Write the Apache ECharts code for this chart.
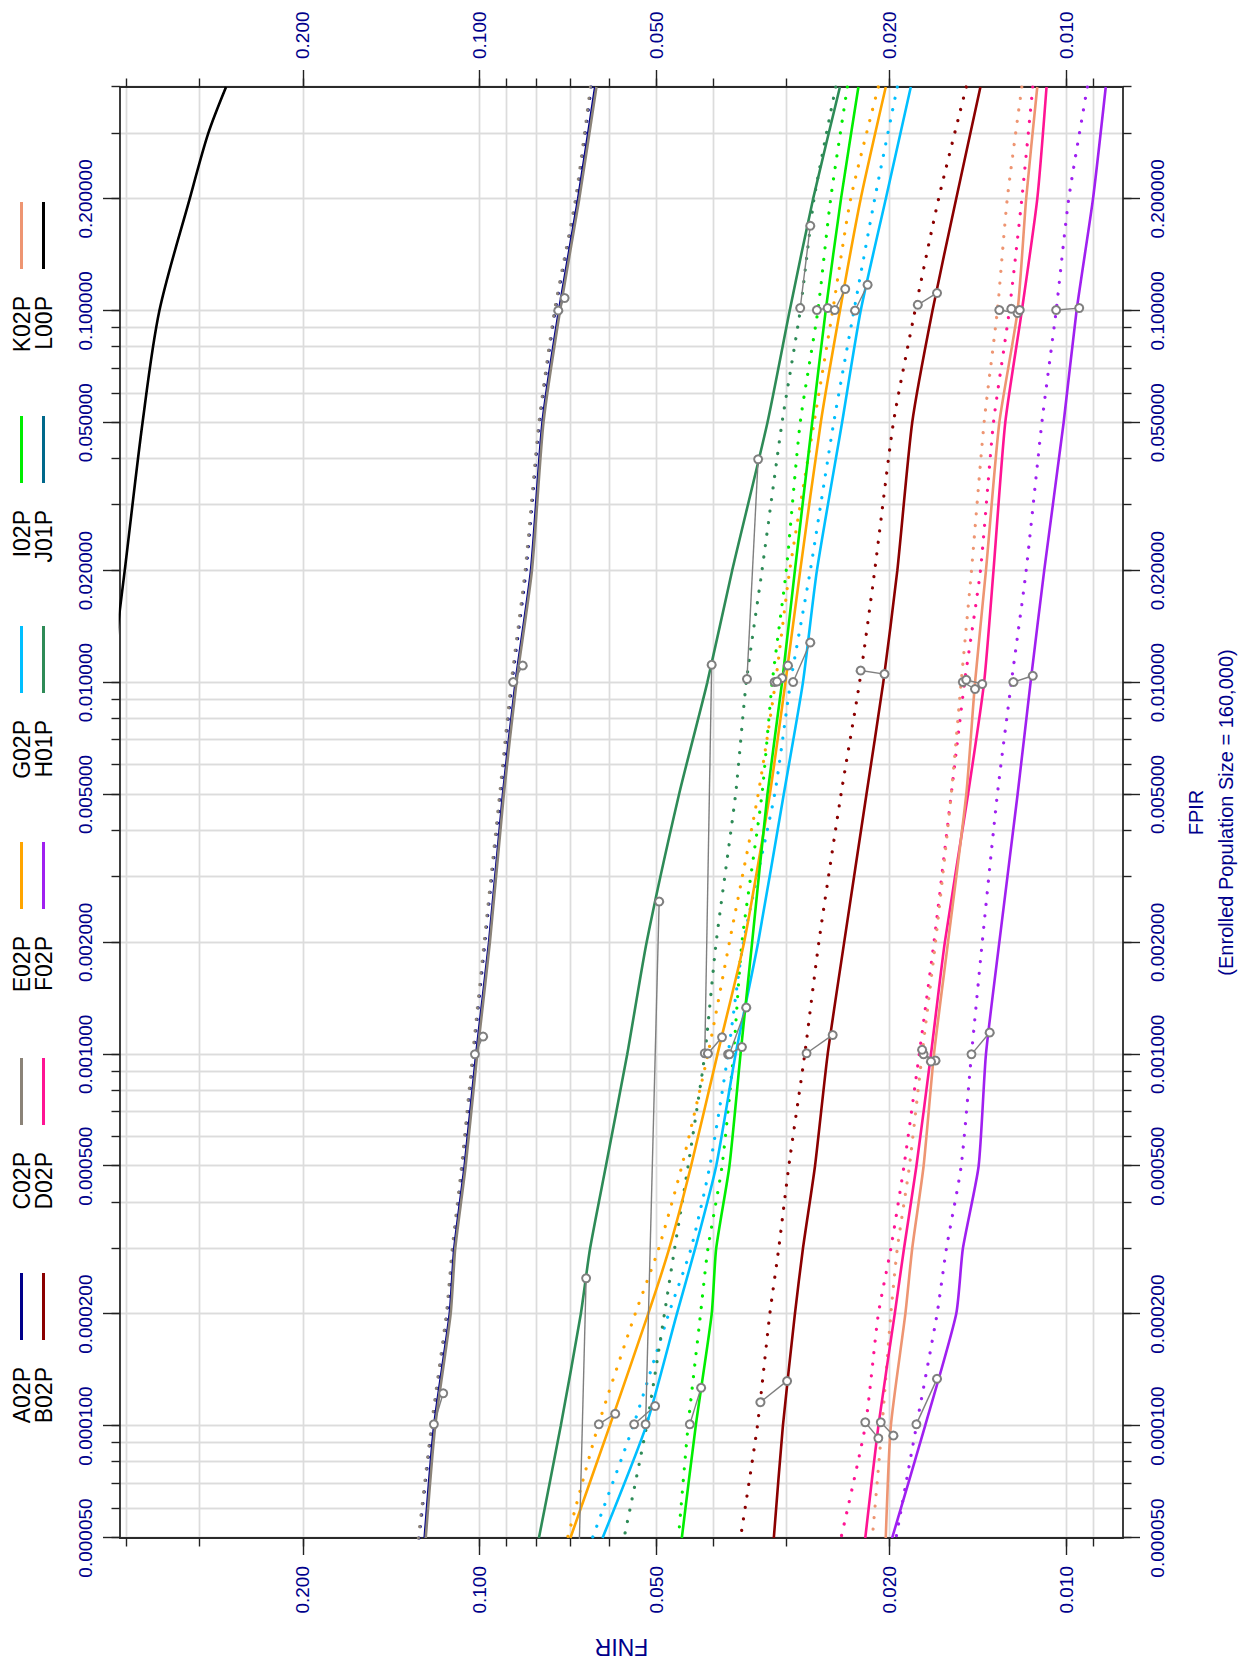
<!DOCTYPE html>
<html>
<head>
<meta charset="utf-8">
<title>FNIR vs FPIR</title>
<script src="https://cdn.jsdelivr.net/npm/echarts@6/dist/echarts.min.js"></script>
<style>
  html, body { margin: 0; padding: 0; background: #ffffff; }
  #page { position: relative; width: 1238px; height: 1659px; overflow: hidden; background: #ffffff; }
  /* the plot is laid out in landscape and turned a quarter turn to stand upright */
  #chart { position: absolute; left: 0; top: 0; width: 1659px; height: 1238px;
           transform-origin: 0 0; transform: translate(0, 1659px) rotate(-90deg); }
</style>
</head>
<body>
<div id="page"><div id="chart"></div></div>
<script>
// ---- data -------------------------------------------------------------
// FPIR operating points at which every curve is sampled
const fpirLevels = [0.4, 0.2, 0.1, 0.05, 0.02, 0.01, 0.005, 0.002, 0.001, 0.0005, 0.0003, 0.0002, 0.0001, 0.00005];

// FNIR for each algorithm, solid = first gallery, dotted = second gallery
const a02pSolid  = [0.0635, 0.0679, 0.0732, 0.0781, 0.0817, 0.0868, 0.0912, 0.0963, 0.1013, 0.1060, 0.1104, 0.1124, 0.1195, 0.1240];
const a02pDotted = [0.0645, 0.0684, 0.0743, 0.0790, 0.0833, 0.0880, 0.0921, 0.0979, 0.1024, 0.1070, 0.1110, 0.1136, 0.1205, 0.1268];
const b02pSolid  = [0.0140, 0.0154, 0.0169, 0.0183, 0.0194, 0.0205, 0.0219, 0.0239, 0.0255, 0.0268, 0.0281, 0.0290, 0.0304, 0.0315];
const b02pDotted = [0.0148, 0.0165, 0.0181, 0.0197, 0.0212, 0.0225, 0.0242, 0.0264, 0.0279, 0.0297, 0.0309, 0.0320, 0.0336, 0.0359];
const c02pSolid  = [0.0632, 0.0676, 0.0729, 0.0778, 0.0814, 0.0865, 0.0909, 0.0960, 0.1009, 0.1056, 0.1100, 0.1120, 0.1190, 0.1235];
const c02pDotted = [0.0647, 0.0686, 0.0745, 0.0792, 0.0836, 0.0883, 0.0924, 0.0982, 0.1027, 0.1073, 0.1113, 0.1139, 0.1208, 0.1271];
const d02pSolid  = [0.0108, 0.0112, 0.0119, 0.0127, 0.0133, 0.0138, 0.0147, 0.0161, 0.0170, 0.0180, 0.0189, 0.0196, 0.0209, 0.0220];
const d02pDotted = [0.0114, 0.0119, 0.0125, 0.0133, 0.0140, 0.0149, 0.0157, 0.0168, 0.0178, 0.0189, 0.0199, 0.0209, 0.0220, 0.0242];
const e02pSolid  = [0.0203, 0.0224, 0.0243, 0.0262, 0.0284, 0.0301, 0.0320, 0.0354, 0.0393, 0.0436, 0.0475, 0.0516, 0.0600, 0.0700];
const e02pDotted = [0.0209, 0.0233, 0.0250, 0.0269, 0.0296, 0.0313, 0.0335, 0.0375, 0.0408, 0.0452, 0.0495, 0.0543, 0.0628, 0.0708];
const f02pSolid  = [0.00856, 0.0090, 0.0096, 0.0101, 0.0109, 0.0115, 0.0121, 0.0130, 0.0137, 0.0141, 0.0150, 0.0154, 0.0174, 0.0198];
const f02pDotted = [0.0092, 0.0099, 0.0104, 0.0110, 0.0117, 0.0124, 0.0131, 0.0139, 0.0145, 0.0151, 0.0160, 0.0166, 0.0180, 0.0195];
const g02pSolid  = [0.0184, 0.0203, 0.0224, 0.0241, 0.0266, 0.0281, 0.0303, 0.0335, 0.0366, 0.0395, 0.0429, 0.0461, 0.0520, 0.0617];
const g02pDotted = [0.0194, 0.0212, 0.0230, 0.0249, 0.0273, 0.0295, 0.0314, 0.0355, 0.0377, 0.0405, 0.0436, 0.0476, 0.0547, 0.0642];
const h01pSolid  = [0.0243, 0.0270, 0.0296, 0.0323, 0.0371, 0.0409, 0.0457, 0.0519, 0.0560, 0.0609, 0.0648, 0.0672, 0.0727, 0.0792];
const h01pDotted = [0.0247, 0.0269, 0.0284, 0.0305, 0.0330, 0.0351, 0.0366, 0.0395, 0.0413, 0.0441, 0.0465, 0.0484, 0.0519, 0.0567];
const i02pSolid  = [0.0226, 0.0242, 0.0257, 0.0271, 0.0290, 0.0305, 0.0323, 0.0343, 0.0359, 0.0375, 0.0395, 0.0402, 0.0428, 0.0452];
const i02pDotted = [0.0236, 0.0252, 0.0265, 0.0284, 0.0300, 0.0317, 0.0330, 0.0357, 0.0369, 0.0386, 0.0408, 0.0420, 0.0441, 0.0458];
const k02pSolid  = [0.0112, 0.0117, 0.0121, 0.0130, 0.0137, 0.0143, 0.0148, 0.0159, 0.0168, 0.0175, 0.0183, 0.0188, 0.0199, 0.0203];
const k02pDotted = [0.0119, 0.0126, 0.0131, 0.0138, 0.0145, 0.0151, 0.0157, 0.0167, 0.0176, 0.0185, 0.0194, 0.0199, 0.0206, 0.0214];

// L00P only reaches the upper FPIR range before leaving the FNIR scale
const l00pFpir = [0.4, 0.3, 0.2, 0.1, 0.05, 0.02, 0.01];
const l00pFnir = [0.2704, 0.2900, 0.3119, 0.3513, 0.3753, 0.4025, 0.4250];

// matching operating points between the two galleries: [fpir, fnir, fpir, fnir]
const linksA02P = [[0.1002, 0.0734, 0.1083, 0.0716], [0.01003, 0.0876, 0.01112, 0.0844], [0.001, 0.1018, 0.001117, 0.0986], [0.0001012, 0.1196, 0.0001226, 0.1153]];
const linksH01P = [[0.1017, 0.0284, 0.1694, 0.0273], [0.01022, 0.0350, 0.0399, 0.0335], [0.001007, 0.0413, 0.01117, 0.0402], [0.0001012, 0.0521, 0.002577, 0.0494], [0.00004, 0.0678, 0.00025, 0.0658]];
const linksI02P = [[0.1005, 0.0266, 0.1017, 0.0255], [0.01003, 0.0314, 0.01028, 0.0305], [0.001, 0.0377, 0.001046, 0.0357], [0.0001012, 0.0438, 0.0001269, 0.0419]];
const linksE02P = [[0.1005, 0.0248, 0.1145, 0.0238], [0.01007, 0.0311, 0.01112, 0.0298], [0.001005, 0.0408, 0.001112, 0.0386], [0.0001012, 0.0626, 0.000108, 0.0587]];
const linksG02P = [[0.1002, 0.0229, 0.1175, 0.0218], [0.01003, 0.0292, 0.01282, 0.0273], [0.001, 0.0375, 0.001336, 0.0351], [0.0001012, 0.0545, 0.0001133, 0.0502]];
const linksB02P = [[0.1038, 0.0179, 0.1117, 0.0166], [0.01078, 0.0224, 0.01054, 0.0204], [0.001007, 0.0277, 0.001128, 0.0250], [0.000116, 0.0332, 0.0001323, 0.0299]];
const linksK02P = [[0.1005, 0.0130, 0.0986, 0.0121], [0.01003, 0.0150, 0.00961, 0.0143], [0.001, 0.0175, 0.000962, 0.0167], [0.0001024, 0.0207, 0.0000943, 0.0197]];
const linksD02P = [[0.1013, 0.0124, 0.1005, 0.0120], [0.01017, 0.0148, 0.00991, 0.0139], [0.001028, 0.0176, 0.000956, 0.0170], [0.0001024, 0.0220, 0.0000928, 0.0209]];
const linksF02P = [[0.1005, 0.0104, 0.1017, 0.0095], [0.01003, 0.0123, 0.01043, 0.0114], [0.001, 0.0145, 0.001145, 0.0135], [0.0001012, 0.0180, 0.000134, 0.0166]];

// axis ticks, grid lines and labelled values
const fpirGridValues = [0.00005, 0.00006, 0.00007, 0.00008, 0.00009, 0.0001, 0.0002, 0.0003, 0.0004, 0.0005, 0.0006, 0.0007, 0.0008, 0.0009,
                        0.001, 0.002, 0.003, 0.004, 0.005, 0.006, 0.007, 0.008, 0.009, 0.01, 0.02, 0.03, 0.04, 0.05, 0.06, 0.07, 0.08, 0.09,
                        0.1, 0.2, 0.3, 0.4];
const fpirLabelValues = [0.00005, 0.0001, 0.0002, 0.0005, 0.001, 0.002, 0.005, 0.01, 0.02, 0.05, 0.1, 0.2];
const fnirGridValues = [0.009, 0.01, 0.02, 0.03, 0.04, 0.05, 0.06, 0.07, 0.08, 0.09, 0.1, 0.2, 0.3, 0.4];
const fnirLabelValues = [0.01, 0.02, 0.05, 0.1, 0.2];

// legend rows, as laid out across the top
const legendRowOne = ['A02P', 'C02P', 'E02P', 'G02P', 'I02P', 'K02P'];
const legendRowTwo = ['B02P', 'D02P', 'F02P', 'H01P', 'J01P', 'L00P'];

// ---- styling -------------------------------------------------------------
const colorOf = {
  A02P: '#00008B', B02P: '#8B0000', C02P: '#8B8378', D02P: '#FF1493',
  E02P: '#FFA500', F02P: '#A020F0', G02P: '#00BFFF', H01P: '#2E8B57',
  I02P: '#00EE00', J01P: '#00688B', K02P: '#EE9572', L00P: '#000000'
};
const FONT = 'Liberation Sans, Arial, Helvetica, sans-serif';
const LABEL_BLUE = '#00008B';
const W = 1659;
const SMOOTH = 0.2;

const curves = [
  ['A02P', a02pSolid, a02pDotted], ['B02P', b02pSolid, b02pDotted],
  ['C02P', c02pSolid, c02pDotted], ['D02P', d02pSolid, d02pDotted],
  ['E02P', e02pSolid, e02pDotted], ['F02P', f02pSolid, f02pDotted],
  ['G02P', g02pSolid, g02pDotted], ['H01P', h01pSolid, h01pDotted],
  ['I02P', i02pSolid, i02pDotted], ['K02P', k02pSolid, k02pDotted]
];
const links = [linksA02P, linksH01P, linksI02P, linksE02P, linksG02P, linksB02P, linksK02P, linksD02P, linksF02P];

const pair = (xs, ys) => xs.map((x, i) => [x, ys[i]]);

const series = [];
curves.forEach(([name, solid, dotted]) => {
  series.push({
    name: name + ' · gallery 2', type: 'line', data: pair(fpirLevels, dotted),
    symbol: 'none', showSymbol: false, silent: true, z: 3, smooth: SMOOTH,
    lineStyle: { color: colorOf[name], width: 3.2, type: [0.1, 11.5], cap: 'round' },
    itemStyle: { color: colorOf[name] }
  });
});
curves.forEach(([name, solid]) => {
  series.push({
    name: name, type: 'line', data: pair(fpirLevels, solid),
    symbol: 'none', showSymbol: false, silent: true, z: 4, smooth: SMOOTH,
    lineStyle: { color: colorOf[name], width: 2.6 },
    itemStyle: { color: colorOf[name] }
  });
});
series.push({
  name: 'J01P', type: 'line', data: [], symbol: 'none', silent: true,
  lineStyle: { color: colorOf.J01P, width: 2.6 }, itemStyle: { color: colorOf.J01P }
});
series.push({
  name: 'L00P', type: 'line', data: pair(l00pFpir, l00pFnir),
  symbol: 'none', showSymbol: false, silent: true, z: 4, smooth: 0.3,
  lineStyle: { color: colorOf.L00P, width: 2.6 }, itemStyle: { color: colorOf.L00P }
});
links.forEach(group => {
  group.forEach(([x1, y1, x2, y2]) => {
    series.push({
      type: 'line', data: [[x1, y1], [x2, y2]], silent: true, z: 6,
      symbol: 'emptyCircle', symbolSize: 8, showSymbol: true,
      lineStyle: { color: '#7f7f7f', width: 1.4 },
      itemStyle: { color: '#7f7f7f', borderColor: '#7f7f7f', borderWidth: 1.5 }
    });
  });
});

// ---- axes ----------------------------------------------------------------
const fpirRange = { type: 'log', logBase: 10, min: 0.00005, max: 0.4 };
const fnirRange = { type: 'log', logBase: 10, min: 0.008, max: 0.41 };
const frameLine = { show: true, onZero: false, lineStyle: { color: '#2a2a2a', width: 1.8 } };
const tickLine = { color: '#222222', width: 1.4 };
const gridLine = { show: true, lineStyle: { color: '#dcdcdc', width: 1.4 } };
const tickText = (fmt, margin) => ({ show: true, margin, color: LABEL_BLUE, fontSize: 19, fontFamily: FONT, formatter: fmt });
const fpirFmt = v => Number(v).toFixed(6);
const fnirFmt = v => Number(v).toFixed(3);

function fpirAxes(position, withName) {
  const minor = Object.assign({}, fpirRange, {
    position, axisLine: frameLine,
    axisTick: { show: true, customValues: fpirGridValues, length: 8.5, lineStyle: tickLine },
    axisLabel: { show: false }, splitLine: gridLine
  });
  const major = Object.assign({}, fpirRange, {
    position, axisLine: { show: false },
    axisTick: { show: true, customValues: fpirLabelValues, length: 17, lineStyle: tickLine },
    axisLabel: Object.assign(tickText(fpirFmt, 25), { customValues: fpirLabelValues }),
    splitLine: { show: false }
  });
  if (withName) {
    Object.assign(major, {
      name: 'FPIR\n(Enrolled Population Size = 160,000)', nameLocation: 'middle', nameGap: 58,
      nameTextStyle: { color: LABEL_BLUE, fontSize: 20, lineHeight: 30, fontFamily: FONT }
    });
  }
  return [minor, major];
}
function fnirAxes(position, withName) {
  const minor = Object.assign({}, fnirRange, {
    position, axisLine: frameLine,
    axisTick: { show: true, customValues: fnirGridValues, length: 8.5, lineStyle: tickLine },
    axisLabel: { show: false }, splitLine: gridLine
  });
  const major = Object.assign({}, fnirRange, {
    position, axisLine: { show: false },
    axisTick: { show: true, customValues: fnirLabelValues, length: 17, lineStyle: tickLine },
    axisLabel: Object.assign(tickText(fnirFmt, 28), { customValues: fnirLabelValues }),
    splitLine: { show: false }
  });
  if (withName) {
    Object.assign(major, {
      name: 'FNIR', nameLocation: 'middle', nameGap: 97,
      nameTextStyle: { color: LABEL_BLUE, fontSize: 23, fontFamily: FONT }
    });
  }
  return [minor, major];
}

// ---- legend --------------------------------------------------------------
// each entry: name, then a short line; the line ends at a fixed column
const legendIconEnds = [386, 601, 817, 1033, 1243, 1457];
const legends = [];
[[legendRowOne, 10], [legendRowTwo, 32]].forEach(([row, top]) => {
  row.forEach((name, i) => {
    legends.push({
      data: [name], right: W - legendIconEnds[i], top, padding: 0,
      orient: 'horizontal', align: 'right', icon: 'rect', itemWidth: 67, itemHeight: 3, itemGap: 0,
      selectedMode: false,
      textStyle: { color: '#000000', fontSize: 23, fontFamily: FONT, padding: [0, 22, 0, 0] }
    });
  });
});

const chart = echarts.init(document.getElementById('chart'), null, { renderer: 'svg', width: 1659, height: 1238 });
chart.setOption({
  animation: false,
  backgroundColor: '#ffffff',
  grid: { left: 121, right: 87, top: 120, bottom: 115, containLabel: false, outerBoundsMode: 'none' },
  legend: legends,
  xAxis: [...fpirAxes('bottom', true), ...fpirAxes('top', false)],
  yAxis: [...fnirAxes('left', true), ...fnirAxes('right', false)],
  series
});
</script>
</body>
</html>
